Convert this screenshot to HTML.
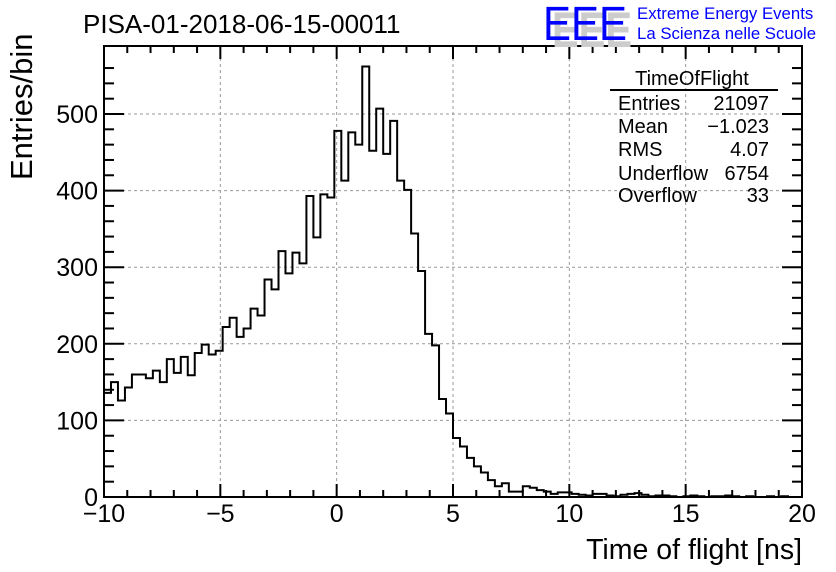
<!DOCTYPE html>
<html><head><meta charset="utf-8"><style>
body{margin:0;background:#fff;}
svg{display:block;font-family:"Liberation Sans",sans-serif;}
</style></head><body>
<svg id="c" width="836" height="572" xmlns="http://www.w3.org/2000/svg">
<rect width="836" height="572" fill="#fff"/>
<g id="grid"></g>
<g id="ticks"></g>
<path id="hist" fill="none" stroke="#000" stroke-width="2"/>
<rect x="104" y="46" width="698" height="451" fill="none" stroke="#000" stroke-width="2"/>
<g id="labels" font-size="25"></g>
<text x="83" y="33" font-size="26">PISA-01-2018-06-15-00011</text>
<text x="802" y="559" font-size="28.5" text-anchor="end">Time of flight [ns]</text>
<text transform="translate(32,180) rotate(-90)" font-size="31">Entries/bin</text>
<g>
<text x="552" y="47" font-size="50" fill="#ccc" font-weight="bold" textLength="80" lengthAdjust="spacingAndGlyphs">EEE</text>
<text x="543" y="40" font-size="48" fill="#00f" textLength="84" lengthAdjust="spacingAndGlyphs">EEE</text>
<text x="637" y="19" font-size="16.8" fill="#00f">Extreme Energy Events</text>
<text x="637" y="39" font-size="16.8" fill="#00f">La Scienza nelle Scuole</text>
</g>
<g font-size="20">
<text x="692" y="85" text-anchor="middle">TimeOfFlight</text>
<line x1="610" y1="90" x2="778" y2="90" stroke="#000" stroke-width="2"/>
<text x="618" y="110">Entries</text><text x="769" y="110" text-anchor="end">21097</text>
<text x="618" y="133">Mean</text><text x="769" y="133" text-anchor="end">−1.023</text>
<text x="618" y="156">RMS</text><text x="769" y="156" text-anchor="end">4.07</text>
<text x="618" y="180">Underflow</text><text x="769" y="180" text-anchor="end">6754</text>
<text x="618" y="202">Overflow</text><text x="769" y="202" text-anchor="end">33</text>
</g>
</svg>
<script>
const binEdgeStart = -10;
const binWidth = 0.3;
const counts = [136,150,126,143,160,160,155,165,150,180,162,183,159,188,199,186,191,222,234,209,
220,246,237,284,271,321,292,319,305,393,339,395,391,478,413,476,460,562,452,507,
448,491,413,401,344,295,213,198,128,109,77,66,51,40,32,22,14,18,7,7,
14,12,9,7,4,6,6,4,3,2,4,4,2,1,3,4,5,3,1,2,
2,1,0,1,2,1,0,1,1,2,1,0,1,0,0,1,0,1,0,0];
const xTicks = [-10,-5,0,5,10,15,20];
const yTicks = [0,100,200,300,400,500];
const NS="http://www.w3.org/2000/svg";
const X0=104,X1=802,Y0=497,Y1=46;
function xs(v){return X0+(v+10)/30*(X1-X0);}
function ys(v){return Y0-v*0.766;}
let d="M"+xs(binEdgeStart)+","+Y0;
counts.forEach((c,i)=>{const a=xs(binEdgeStart+i*binWidth),b=xs(binEdgeStart+(i+1)*binWidth);d+=" L"+a+","+ys(c)+" L"+b+","+ys(c);});
d+=" L"+xs(binEdgeStart+counts.length*binWidth)+","+Y0;
document.getElementById('hist').setAttribute('d',d);
const grid=document.getElementById('grid'),ticks=document.getElementById('ticks'),labels=document.getElementById('labels');
function ln(p,x1,y1,x2,y2,dash,name){const l=document.createElementNS(NS,'line');l.setAttribute('x1',x1);l.setAttribute('y1',y1);l.setAttribute('x2',x2);l.setAttribute('y2',y2);l.setAttribute('stroke',dash?'#999':'#000');l.setAttribute('stroke-width',dash?1:2);if(dash)l.setAttribute('stroke-dasharray','3,3');


p.appendChild(l);}
function tx(x,y,s,anchor,name){const t=document.createElementNS(NS,'text');t.setAttribute('x',x);t.setAttribute('y',y);t.setAttribute('text-anchor',anchor);t.textContent=s;


labels.appendChild(t);}
xTicks.forEach(v=>{const x=xs(v);if(v>-10&&v<20)ln(grid,x,Y1,x,Y0,true,'x-gridline');ln(ticks,x,Y0,x,Y0-13,false,'x-major-tick');ln(ticks,x,Y1,x,Y1+13,false,'x-major-tick-top');tx(x,522,String(v).replace('-','−'),'middle','x-tick-label');});
for(let v=-10;v<=20;v++){if(v%5){const x=xs(v);ln(ticks,x,Y0,x,Y0-7,false,'x-minor-tick');ln(ticks,x,Y1,x,Y1+7,false,'x-minor-tick-top');}}
yTicks.forEach(v=>{const y=ys(v);if(v>0)ln(grid,X0,y,X1,y,true,'y-gridline');ln(ticks,X0,y,X0+20,y,false,'y-major-tick');ln(ticks,X1,y,X1-20,y,false,'y-major-tick-right');tx(98,y+9,String(v),'end','y-tick-label');});
for(let v=20;v<580;v+=20){if(v%100){const y=ys(v);ln(ticks,X0,y,X0+10,y,false,'y-minor-tick');ln(ticks,X1,y,X1-10,y,false,'y-minor-tick-right');}}
</script>
</body></html>
